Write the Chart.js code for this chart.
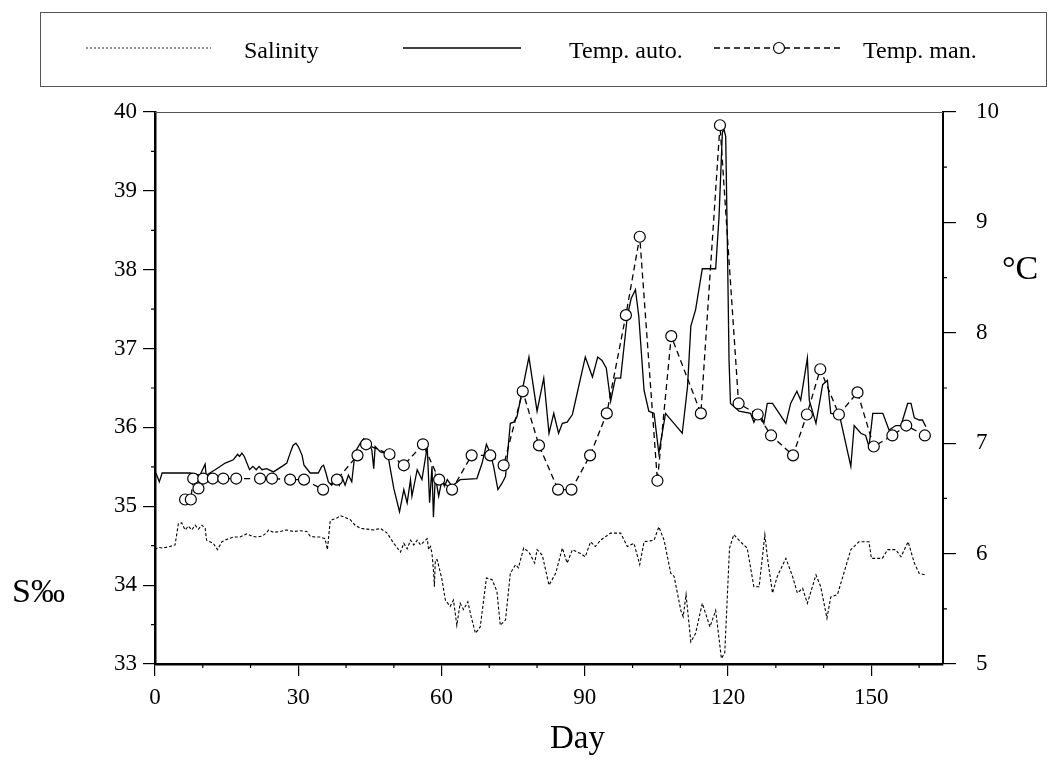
<!DOCTYPE html>
<html>
<head>
<meta charset="utf-8">
<script src="https://cdn.jsdelivr.net/npm/chart.js@4.4.1/dist/chart.umd.min.js"></script>
<style>
  html, body { margin: 0; padding: 0; background: #fff; }
  #wrap { position: relative; width: 1054px; height: 772px; overflow: hidden; font-family: "Liberation Serif", "DejaVu Serif", serif; color: #000; }
  #c { position: absolute; left: 0; top: 0; }
  .lab { position: absolute; line-height: 1; white-space: nowrap; }
  #legend { position: absolute; left: 40px; top: 12px; width: 1007px; height: 75px; border: 1px solid #555; box-sizing: border-box; }
  #legend svg { position: absolute; left: 0; top: 0; }
  .ltxt { position: absolute; font-size: 24px; line-height: 1; top: 25px; }
</style>
</head>
<body>
<div id="wrap">
  <canvas id="c" width="1054" height="772"></canvas>
  <div id="legend">
    <svg width="1007" height="75">
      <line x1="45" y1="35" x2="170" y2="35" stroke="#222" stroke-width="1.1" stroke-dasharray="2,2"/>
      <line x1="362" y1="35" x2="480" y2="35" stroke="#000" stroke-width="1.3"/>
      <line x1="673" y1="35" x2="800" y2="35" stroke="#000" stroke-width="1.3" stroke-dasharray="6,4"/>
      <circle cx="738" cy="35" r="5.5" fill="#fff" stroke="#000" stroke-width="1.2"/>
    </svg>
    <div class="ltxt" style="left:203px">Salinity</div>
    <div class="ltxt" style="left:528px">Temp. auto.</div>
    <div class="ltxt" style="left:822px">Temp. man.</div>
  </div>
  <div class="lab" style="left:12px; top:574px; font-size:34px;">S‰</div>
  <div class="lab" style="left:1002px; top:251px; font-size:34px;">°C</div>
  <div class="lab" style="left:550px; top:721px; font-size:33px;">Day</div>
</div>
<script>
// ---- Data ----
const salDays = [0,0.7,1.7,3.1,4.2,4.9,5.6,6.3,7.0,7.7,8.4,9.1,9.8,10.5,10.8,11.5,12.2,13.1,14.0,15.0,16.4,17.8,19.2,20.3,21.3,22.4,23.3,23.8,24.8,26.2,27.6,29.0,30.4,31.8,32.5,33.5,34.6,35.6,36.1,36.7,38.1,38.8,39.8,40.9,41.9,43.0,44.4,45.8,47.2,48.6,50.0,51.4,52.1,52.8,53.5,54.2,54.9,55.6,57.0,57.3,57.7,58.0,58.3,58.5,58.7,59.1,60.1,60.8,61.8,62.5,63.2,63.9,64.6,65.5,66.2,67.1,68.1,69.4,70.6,71.6,72.3,73.4,74.4,75.5,76.1,77.2,78.3,79.5,80.0,81.1,82.5,83.9,85.3,86.3,87.4,89.1,90.1,91.2,92.2,93.3,95.4,97.5,98.9,100.3,101.5,102.4,104.5,105.5,106.6,108.0,108.7,110.1,110.6,111.2,112.2,113.2,114.6,116.2,117.4,118.6,119.3,120.3,121.2,122.6,124.0,125.4,126.5,127.7,128.3,129.3,130.3,132.1,133.5,134.5,135.6,136.6,138.4,139.4,140.7,141.5,142.9,145.7,147.4,149.5,150.0,152.3,153.4,155.1,156.2,157.7,159.0,160.0,161.2];
const salValues = [34.45,34.48,34.47,34.49,34.51,34.78,34.79,34.70,34.75,34.70,34.76,34.71,34.76,34.72,34.57,34.55,34.53,34.45,34.55,34.58,34.61,34.61,34.65,34.62,34.61,34.62,34.66,34.70,34.67,34.68,34.70,34.68,34.69,34.68,34.62,34.61,34.61,34.59,34.45,34.82,34.85,34.88,34.86,34.83,34.76,34.72,34.71,34.70,34.72,34.66,34.53,34.42,34.53,34.46,34.57,34.51,34.57,34.51,34.59,34.45,34.49,34.40,34.19,33.98,34.32,34.32,34.07,33.81,33.73,33.81,33.49,33.77,33.69,33.79,33.60,33.39,33.47,34.09,34.07,33.92,33.49,33.56,34.15,34.26,34.22,34.47,34.42,34.28,34.45,34.38,34.00,34.15,34.47,34.28,34.45,34.40,34.36,34.55,34.49,34.57,34.66,34.66,34.49,34.53,34.26,34.55,34.57,34.74,34.57,34.15,34.11,33.68,33.60,33.88,33.28,33.39,33.77,33.47,33.68,33.07,33.14,34.47,34.64,34.55,34.47,33.98,33.98,34.64,34.32,33.90,34.11,34.34,34.11,33.90,33.96,33.77,34.13,33.98,33.58,33.85,33.88,34.45,34.55,34.55,34.34,34.34,34.45,34.45,34.36,34.55,34.28,34.15,34.13];

const autoDays = [0.2,0.9,1.5,3.1,5.2,7.3,9.4,10.5,10.7,12.6,14.7,16.4,17.3,17.7,18.2,18.7,19.8,20.5,21.2,21.8,22.4,23.4,24.8,26.6,27.6,28.3,28.9,29.5,30.0,30.8,31.2,32.5,34.2,34.9,35.3,35.8,36.3,37.0,38.1,38.6,39.2,39.8,40.5,41.2,41.9,43.0,43.7,44.7,45.4,45.8,46.1,47.2,48.2,48.9,49.3,50.0,51.2,51.7,52.1,52.8,53.5,53.8,54.9,55.9,57.0,57.5,58.0,58.3,58.7,59.4,60.1,60.6,61.2,62.2,63.9,67.4,68.5,69.4,70.2,70.9,71.8,72.7,73.4,74.4,75.1,75.8,78.3,80.0,81.4,82.5,83.5,84.5,85.3,86.3,87.4,90.1,91.6,92.7,93.6,94.5,95.4,96.4,97.5,98.9,99.7,100.6,101.3,102.4,103.4,104.5,105.5,106.9,110.4,111.5,112.2,113.2,114.6,117.4,118.1,118.8,119.1,119.5,119.9,120.2,120.5,122.3,124.7,125.4,126.5,127.5,128.2,129.3,132.1,133.1,134.4,135.2,136.6,137.0,138.4,139.8,140.8,141.5,143.3,145.7,146.4,147.8,148.8,149.5,150.3,152.4,153.7,155.1,156.2,157.6,158.3,159.0,160.0,160.7,161.4];
const autoValues = [6.73,6.65,6.73,6.73,6.73,6.73,6.71,6.81,6.71,6.76,6.82,6.85,6.90,6.88,6.91,6.88,6.76,6.79,6.76,6.79,6.76,6.77,6.74,6.79,6.82,6.91,6.98,7.00,6.97,6.89,6.80,6.73,6.73,6.79,6.80,6.73,6.65,6.62,6.70,6.62,6.69,6.62,6.71,6.65,6.92,7.00,7.04,7.00,6.94,6.77,6.97,6.92,6.91,6.86,6.76,6.59,6.38,6.49,6.58,6.46,6.67,6.52,6.76,6.67,6.97,6.46,6.79,6.33,6.70,6.52,6.67,6.61,6.67,6.61,6.67,6.68,6.82,6.99,6.91,6.79,6.58,6.64,6.70,7.18,7.19,7.24,7.78,7.29,7.59,7.09,7.27,7.09,7.18,7.19,7.26,7.78,7.60,7.78,7.75,7.68,7.38,7.59,7.59,8.15,8.31,8.39,8.15,7.48,7.29,7.27,6.91,7.27,7.09,7.51,8.06,8.21,8.58,8.58,9.05,9.81,9.85,9.78,8.66,7.75,7.36,7.29,7.27,7.19,7.29,7.18,7.36,7.36,7.18,7.36,7.47,7.39,7.77,7.39,7.18,7.53,7.57,7.27,7.26,6.79,7.16,7.09,7.07,6.97,7.27,7.27,7.12,7.16,7.16,7.36,7.36,7.23,7.21,7.21,7.15];

const manDays = [6.3,7.5,8.0,9.1,10.1,12.1,14.3,17.0,22.0,24.5,28.3,31.2,35.2,38.1,42.4,44.2,49.1,52.1,56.1,59.5,62.2,66.3,70.2,73.0,77.0,80.4,84.4,87.2,91.1,94.6,98.6,101.5,105.2,108.1,114.3,118.3,122.2,126.2,129.0,133.6,136.5,139.3,143.2,147.1,150.5,154.4,157.3,161.2];
const manValues = [6.49,6.49,6.68,6.59,6.68,6.68,6.68,6.68,6.68,6.68,6.67,6.67,6.58,6.67,6.89,6.99,6.90,6.80,6.99,6.67,6.58,6.89,6.89,6.80,7.47,6.98,6.58,6.58,6.89,7.27,8.16,8.87,6.66,7.97,7.27,9.88,7.36,7.26,7.07,6.89,7.26,7.67,7.26,7.46,6.97,7.07,7.16,7.07];

const xTicks = [0, 30, 60, 90, 120, 150];
const salTicks = [33, 34, 35, 36, 37, 38, 39, 40];
const tempTicks = [5, 6, 7, 8, 9, 10];

const toXY = (xs, ys) => xs.map((x, i) => ({ x: x, y: ys[i] }));
const FONT = "'Liberation Serif', 'Times New Roman', serif";

// Minor ticks and top frame line, drawn through the chart's own scales
const framePlugin = {
  id: 'frame',
  afterDraw(chart) {
    const { ctx, chartArea: a, scales } = chart;
    ctx.save();
    ctx.strokeStyle = '#555';
    ctx.lineWidth = 1;
    ctx.beginPath();
    ctx.moveTo(a.left, a.top + 0.5);
    ctx.lineTo(a.right, a.top + 0.5);
    ctx.stroke();
    ctx.strokeStyle = '#000';
    ctx.lineWidth = 1.2;
    ctx.beginPath();
    for (let v = 10; v < 165; v += 10) {
      if (v % 30 === 0) continue;
      const px = scales.x.getPixelForValue(v);
      ctx.moveTo(px, a.bottom); ctx.lineTo(px, a.bottom + 4);
    }
    for (let v = 33.5; v < 40; v += 1) {
      const py = scales.ySal.getPixelForValue(v);
      ctx.moveTo(a.left - 4, py); ctx.lineTo(a.left, py);
    }
    for (let v = 5.5; v < 10; v += 1) {
      const py = scales.yTemp.getPixelForValue(v);
      ctx.moveTo(a.right, py); ctx.lineTo(a.right + 4, py);
    }
    ctx.stroke();
    ctx.restore();
  }
};

new Chart(document.getElementById('c'), {
  type: 'line',
  data: {
    datasets: [
      {
        label: 'Temp. man.',
        data: toXY(manDays, manValues),
        yAxisID: 'yTemp',
        borderColor: '#000',
        borderWidth: 1.3,
        borderDash: [6, 4],
        pointRadius: 5.5,
        pointBackgroundColor: '#fff',
        pointBorderColor: '#000',
        pointBorderWidth: 1.2,
        tension: 0,
        order: 0
      },
      {
        label: 'Temp. auto.',
        data: toXY(autoDays, autoValues),
        yAxisID: 'yTemp',
        borderColor: '#000',
        borderWidth: 1.3,
        pointRadius: 0,
        tension: 0,
        order: 1
      },
      {
        label: 'Salinity',
        data: toXY(salDays, salValues),
        yAxisID: 'ySal',
        borderColor: '#000',
        borderWidth: 1.1,
        borderDash: [3, 2],
        pointRadius: 0,
        tension: 0,
        order: 2
      }
    ]
  },
  options: {
    responsive: false,
    animation: false,
    devicePixelRatio: 1,
    layout: { padding: { top: 112, left: 0, right: 0, bottom: 0 } },
    plugins: { legend: { display: false }, tooltip: { enabled: false } },
    scales: {
      x: {
        type: 'linear',
        min: 0, max: 165,
        afterBuildTicks: s => { s.ticks = xTicks.map(v => ({ value: v })); },
        afterFit: s => { s.height = 108; },
        grid: { drawOnChartArea: false, drawTicks: true, tickLength: 12, color: '#000', lineWidth: 1.2 },
        border: { display: true, color: '#000', width: 2.5 },
        ticks: { color: '#000', font: { family: FONT, size: 23 }, padding: 8, maxRotation: 0 }
      },
      ySal: {
        type: 'linear',
        position: 'left',
        min: 33, max: 40,
        afterBuildTicks: s => { s.ticks = salTicks.map(v => ({ value: v })); },
        afterFit: s => { s.width = 155; },
        grid: { drawOnChartArea: false, drawTicks: true, tickLength: 12, color: '#000', lineWidth: 1.2 },
        border: { display: true, color: '#000', width: 2.5 },
        ticks: { color: '#000', font: { family: FONT, size: 23 }, padding: 6 }
      },
      yTemp: {
        type: 'linear',
        position: 'right',
        min: 5, max: 10,
        afterBuildTicks: s => { s.ticks = tempTicks.map(v => ({ value: v })); },
        afterFit: s => { s.width = 111; },
        grid: { drawOnChartArea: false, drawTicks: true, tickLength: 13, color: '#000', lineWidth: 1.2 },
        border: { display: true, color: '#000', width: 2 },
        ticks: { color: '#000', font: { family: FONT, size: 23 }, padding: 20 }
      }
    }
  },
  plugins: [framePlugin]
});
</script>
</body>
</html>
